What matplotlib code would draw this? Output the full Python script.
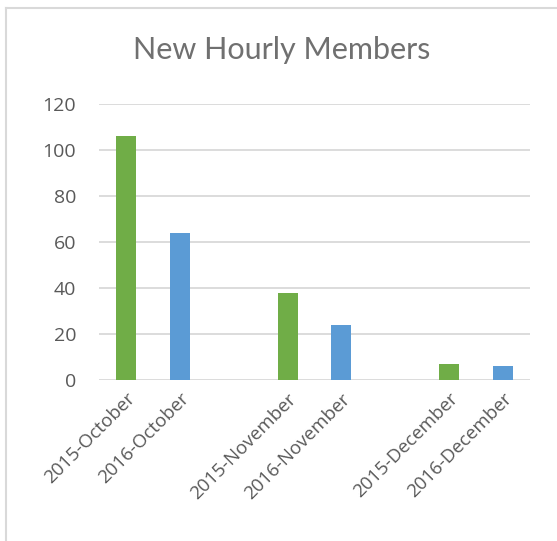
import matplotlib
matplotlib.use("Agg")
import matplotlib.pyplot as plt
from matplotlib.lines import Line2D

categories = ["2015-October", "2016-October", "2015-November", "2016-November",
              "2015-December", "2016-December"]
values = [106, 64, 38, 24, 7, 6]
positions = [0, 1, 3, 4, 6, 7]
colors = ["#70AD47", "#5B9BD5", "#70AD47", "#5B9BD5", "#70AD47", "#5B9BD5"]
yticks = [0, 20, 40, 60, 80, 100, 120]

W, H = 557, 541
fig = plt.figure(figsize=(W / 100, H / 100), dpi=100)
fig.patch.set_facecolor("white")

ax = fig.add_axes([99 / W, 1 - 380 / H, (530 - 99) / W, (380 - 104) / H])
ax.bar(positions, values, width=0.37, color=colors, zorder=3)
ax.set_xlim(-0.5, 7.5)
ax.set_ylim(0, 120)
ax.set_yticks(yticks)
ax.set_yticklabels([str(t) for t in yticks], fontsize=14, color="#595959", family="Open Sans")
ax.yaxis.grid(True, color="#D9D9D9", linewidth=1.3, zorder=0)
ax.set_axisbelow(True)
for s in ax.spines.values():
    s.set_visible(False)
ax.tick_params(axis="y", length=0, pad=16.5)
ax.tick_params(axis="x", length=0, pad=7)
ax.set_xticks(positions)
ax.set_xticklabels(categories, rotation=45, ha="right", va="top", rotation_mode="anchor",
                   fontsize=13.5, color="#595959", family="Open Sans")
ax.set_facecolor("white")

fig.text(282 / W, 1 - 50 / H, "New Hourly Members", ha="center", va="center",
         fontsize=22, color="#707070", family="Lato")

# chart frame (partially cropped)
fig.add_artist(Line2D([6 / W, 6 / W], [0, 1 - 8 / H], transform=fig.transFigure,
                      color="#D9D9D9", linewidth=1.5))
fig.add_artist(Line2D([6 / W, 1], [1 - 8 / H, 1 - 8 / H], transform=fig.transFigure,
                      color="#D9D9D9", linewidth=1.5))

fig.savefig("out.png", dpi=100)
